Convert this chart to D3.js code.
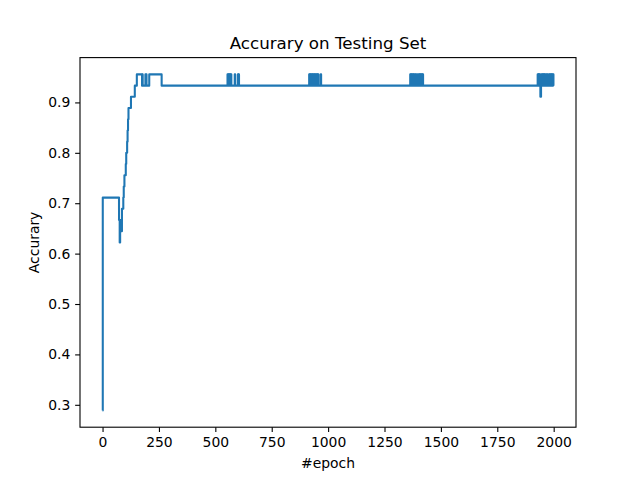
<!DOCTYPE html>
<html>
<head>
<meta charset="utf-8">
<script src="https://cdn.jsdelivr.net/npm/d3@7"></script>
<style>
html,body{margin:0;padding:0;background:#fff;}
svg{display:block;font-family:"DejaVu Sans",sans-serif;}
</style>
</head>
<body>
<svg id="chart" width="640" height="480"></svg>
<script>
// Change points: accuracy holds from each epoch until the next change
const changeEpochs = [
  0, 1, 73, 76, 78, 80, 81, 83, 84, 86, 92, 94, 97, 103, 105, 109, 111, 113, 115, 126, 143, 152,
  175, 176, 178, 190, 192, 194, 195, 207, 262,
  554, 556, 557, 560, 561, 564, 565, 568, 569, 571, 586, 588, 600, 602, 603, 605,
  916, 918, 919, 922, 923, 927, 928, 931, 932, 936, 937, 940, 941, 945, 946, 950, 951, 954, 955, 957, 967, 969,
  1364, 1366, 1367, 1370, 1371, 1375, 1376, 1379, 1380, 1384, 1386, 1388, 1390, 1392, 1396, 1398, 1401, 1404, 1405, 1409, 1410, 1414, 1415, 1418, 1419, 1421,
  1929, 1931, 1932, 1934, 1935, 1938, 1939, 1940, 1941, 1944, 1945, 1948, 1949, 1952, 1953, 1956, 1957, 1960, 1961, 1964, 1967, 1970, 1971, 1975, 1979, 1982, 1983, 1987, 1988, 1991, 1992, 1996, 1997, 1999
];
const changeAccuracy = [
  0.2889, 0.7111, 0.6667, 0.6222, 0.6444, 0.6667, 0.6444, 0.6667, 0.6444, 0.6889, 0.7111, 0.7333, 0.7556, 0.7778, 0.8, 0.8222, 0.8444, 0.8667, 0.8889, 0.9111, 0.9333, 0.9556,
  0.9333, 0.9556, 0.9333, 0.9556, 0.9333, 0.9556, 0.9333, 0.9556, 0.9333,
  0.9556, 0.9333, 0.9556, 0.9333, 0.9556, 0.9333, 0.9556, 0.9333, 0.9556, 0.9333, 0.9556, 0.9333, 0.9556, 0.9333, 0.9556, 0.9333,
  0.9556, 0.9333, 0.9556, 0.9333, 0.9556, 0.9333, 0.9556, 0.9333, 0.9556, 0.9333, 0.9556, 0.9333, 0.9556, 0.9333, 0.9556, 0.9333, 0.9556, 0.9333, 0.9556, 0.9333, 0.9556, 0.9333,
  0.9556, 0.9333, 0.9556, 0.9333, 0.9556, 0.9333, 0.9556, 0.9333, 0.9556, 0.9333, 0.9556, 0.9333, 0.9556, 0.9333, 0.9556, 0.9333, 0.9556, 0.9333, 0.9556, 0.9333, 0.9556, 0.9333, 0.9556, 0.9333, 0.9556, 0.9333,
  0.9556, 0.9333, 0.9556, 0.9333, 0.9556, 0.9333, 0.9556, 0.9333, 0.9111, 0.9333, 0.9556, 0.9333, 0.9556, 0.9333, 0.9556, 0.9333, 0.9556, 0.9333, 0.9556, 0.9333, 0.9556, 0.9333, 0.9556, 0.9333, 0.9556, 0.9333, 0.9556, 0.9333, 0.9556, 0.9333, 0.9556, 0.9333, 0.9556, 0.9333, 0.9556, 0.9333
];
const xTicks = [0, 250, 500, 750, 1000, 1250, 1500, 1750, 2000];
const yTicks = [0.3, 0.4, 0.5, 0.6, 0.7, 0.8, 0.9];
const titleText = "Accurary on Testing Set";
const xLabelText = "#epoch";
const yLabelText = "Accurary";

const data = changeEpochs.map((e, i) => ({epoch: e, acc: changeAccuracy[i]}));

const mLeft = 80, mRight = 576, mTop = 57.6, mBottom = 427.2;
const svg = d3.select("#chart");

const xMin = 0, xMax = 1999;
const xPad = (xMax - xMin) * 0.05;
const yMin = d3.min(changeAccuracy), yMax = d3.max(changeAccuracy);
const yPad = (yMax - yMin) * 0.05;

const x = d3.scaleLinear().domain([xMin - xPad, xMax + xPad]).range([mLeft, mRight]);
const y = d3.scaleLinear().domain([yMin - yPad, yMax + yPad]).range([mBottom, mTop]);

const line = d3.line().x(d => x(d.epoch)).y(d => y(d.acc)).curve(d3.curveStepAfter);

svg.append("path")
  .datum(data)
  .attr("fill", "none")
  .attr("stroke", "#1f77b4")
  .attr("stroke-width", 2.08)
  .attr("stroke-linejoin", "round")
  .attr("d", line);

const tickLen = 4.86;
const xAxis = svg.append("g").attr("transform", `translate(0,${mBottom})`)
  .call(d3.axisBottom(x).tickValues(xTicks).tickSize(tickLen).tickPadding(4.86).tickFormat(d3.format("d")));
const yAxis = svg.append("g").attr("transform", `translate(${mLeft},0)`)
  .call(d3.axisLeft(y).tickValues(yTicks).tickSize(tickLen).tickPadding(4.86).tickFormat(d3.format(".1f")));

[xAxis, yAxis].forEach(g => {
  g.select(".domain").remove();
  g.selectAll(".tick line").attr("stroke", "#000").attr("stroke-width", 1.1);
  g.selectAll(".tick text").attr("fill", "#000").style("font-size", "13.9px").style("font-family", "DejaVu Sans");
});

svg.append("rect")
  .attr("x", mLeft).attr("y", mTop)
  .attr("width", mRight - mLeft).attr("height", mBottom - mTop)
  .attr("fill", "none").attr("stroke", "#000").attr("stroke-width", 1.1);

svg.append("text")
  .attr("x", (mLeft + mRight) / 2).attr("y", mTop - 8.3)
  .attr("text-anchor", "middle")
  .style("font-size", "16.7px")
  .text(titleText);

svg.append("text")
  .attr("x", (mLeft + mRight) / 2).attr("y", 467.5)
  .attr("text-anchor", "middle")
  .style("font-size", "13.9px")
  .text(xLabelText);

svg.append("text")
  .attr("transform", `translate(39,${(mTop + mBottom) / 2}) rotate(-90)`)
  .attr("text-anchor", "middle")
  .style("font-size", "13.9px")
  .text(yLabelText);
</script>
</body>
</html>
